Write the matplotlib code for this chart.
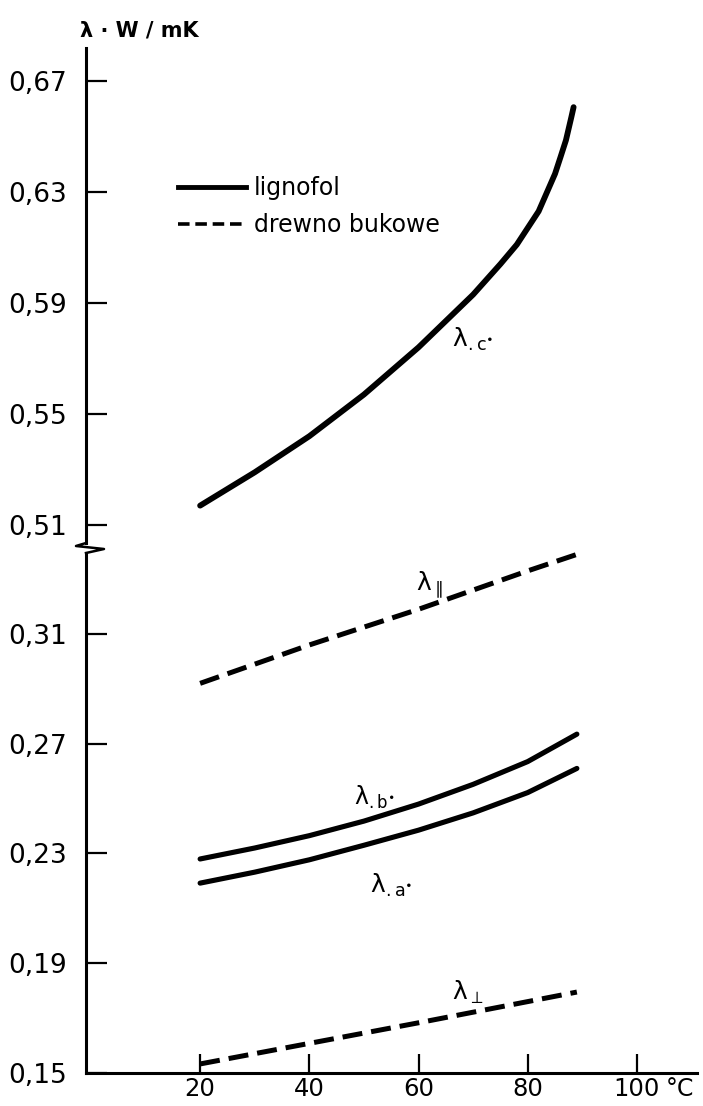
import matplotlib.pyplot as plt
from matplotlib.lines import Line2D

OUTPUT_PATH = "out.png"

# temperature in degC, conductivity in W/mK
TEMPS_C = [20, 30, 40, 50, 60, 70, 75, 78, 80, 82, 84, 85, 86, 87, 88, 88.4]
LAMBDA_C = [0.517, 0.529, 0.542, 0.557, 0.574, 0.593, 0.604, 0.611, 0.617, 0.623,
            0.632, 0.6365, 0.6425, 0.6486, 0.657, 0.6605]

TEMPS_AB = [20, 30, 40, 50, 60, 70, 80, 89]
LAMBDA_B = [0.228, 0.232, 0.2365, 0.2418, 0.248, 0.2552, 0.2635, 0.2735]
LAMBDA_A = [0.2192, 0.2232, 0.2277, 0.233, 0.2385, 0.2448, 0.2522, 0.261]

TEMPS_PAR = [20, 40, 60, 80, 89]
LAMBDA_PAR = [0.292, 0.306, 0.319, 0.333, 0.339]

TEMPS_PERP = [20, 60, 89]
LAMBDA_PERP = [0.1533, 0.1683, 0.1795]

X_TICKS = [20, 40, 60, 80, 100]
Y_TICKS_LOW = [0.15, 0.19, 0.23, 0.27, 0.31]
Y_TICKS_HIGH = [0.51, 0.55, 0.59, 0.63, 0.67]

W, H = 703, 1106
DASH = (0, (4, 1.8))


def fx(px):
    return px / W


def fy(px):
    return 1 - px / H


def fmt(v):
    return f"{v:.2f}".replace(".", ",")


def style_axis(ax, ticks):
    for side in ("top", "right"):
        ax.spines[side].set_visible(False)
    ax.spines["left"].set_linewidth(2.2)
    ax.spines["bottom"].set_linewidth(2.2)
    ax.set_yticks(ticks)
    ax.set_yticklabels([fmt(t) for t in ticks])
    ax.tick_params(axis="y", direction="in", length=15, width=1.6, pad=14, labelsize=19)
    ax.set_xlim(-0.9, 111)
    ax.patch.set_alpha(0)


def create_plot(output_path):
    plt.rcParams["font.family"] = "DejaVu Sans"
    plt.rcParams["mathtext.default"] = "regular"
    fig = plt.figure(figsize=(W / 100, H / 100), dpi=100)

    ax_low = fig.add_axes([fx(86), fy(1073), fx(611), (1073 - 547) / H])
    ax_high = fig.add_axes([fx(86), fy(547), fx(611), (547 - 48) / H])

    style_axis(ax_low, Y_TICKS_LOW)
    style_axis(ax_high, Y_TICKS_HIGH)
    ax_low.set_ylim(0.15, 0.3417)
    ax_high.set_ylim(0.5021, 0.6818)
    ax_low.spines["left"].set_bounds(0.15, 0.3395)
    ax_high.spines["left"].set_bounds(0.5035, 0.6818)
    ax_high.spines["bottom"].set_visible(False)
    ax_high.set_xticks([])

    ax_low.set_xticks(X_TICKS)
    ax_low.tick_params(axis="x", direction="in", length=14, width=1.6, pad=3, labelsize=17.5)

    # curves
    solid = dict(color="black", solid_capstyle="round", solid_joinstyle="round")
    ax_high.plot(TEMPS_C, LAMBDA_C, lw=4.2, **solid)
    ax_low.plot(TEMPS_AB, LAMBDA_B, lw=3.7, **solid)
    ax_low.plot(TEMPS_AB, LAMBDA_A, lw=3.7, **solid)
    ax_low.plot(TEMPS_PAR, LAMBDA_PAR, color="black", lw=3.6, linestyle=DASH, clip_on=False)
    ax_low.plot(TEMPS_PERP, LAMBDA_PERP, color="black", lw=3.6, linestyle=DASH)

    # curve labels
    ax_high.text(70, 0.577, r"$\lambda_{.c^{\bullet}}$", fontsize=18, ha="center", va="center")
    ax_low.text(62, 0.3278, r"$\lambda_{\parallel}$", fontsize=18, ha="center", va="center")
    ax_low.text(52, 0.2506, r"$\lambda_{.b^{\bullet}}$", fontsize=17, ha="center", va="center")
    ax_low.text(55, 0.2185, r"$\lambda_{.a^{\bullet}}$", fontsize=18, ha="center", va="center")
    ax_low.text(69, 0.1795, r"$\lambda_{\perp}$", fontsize=18, ha="center", va="center")

    # legend
    handles = [
        Line2D([], [], color="black", lw=3.5),
        Line2D([], [], color="black", lw=2.6, linestyle=(0, (3.2, 1.6))),
    ]
    fig.legend(
        handles,
        ["lignofol", "drewno bukowe"],
        loc="upper left",
        bbox_to_anchor=(fx(178), fy(176)),
        bbox_transform=fig.transFigure,
        frameon=False,
        fontsize=17,
        handlelength=2.9,
        handletextpad=0.3,
        labelspacing=0.55,
        borderpad=0,
        borderaxespad=0,
    )

    # axis titles
    fig.text(fx(80), fy(30), "λ · W / mK", fontsize=15, fontweight="bold", va="center", ha="left")
    fig.text(fx(666), fy(1077), "°C", fontsize=17, va="top", ha="left")

    # axis break zigzag
    zx = [86, 76, 104, 86]
    zy = [543, 546, 549, 553]
    fig.add_artist(Line2D([fx(x) for x in zx], [fy(y) for y in zy], color="black", lw=1.8))

    fig.savefig(output_path, dpi=100)
    print(f"Plot saved to {output_path}")


if __name__ == "__main__":
    create_plot(OUTPUT_PATH)
